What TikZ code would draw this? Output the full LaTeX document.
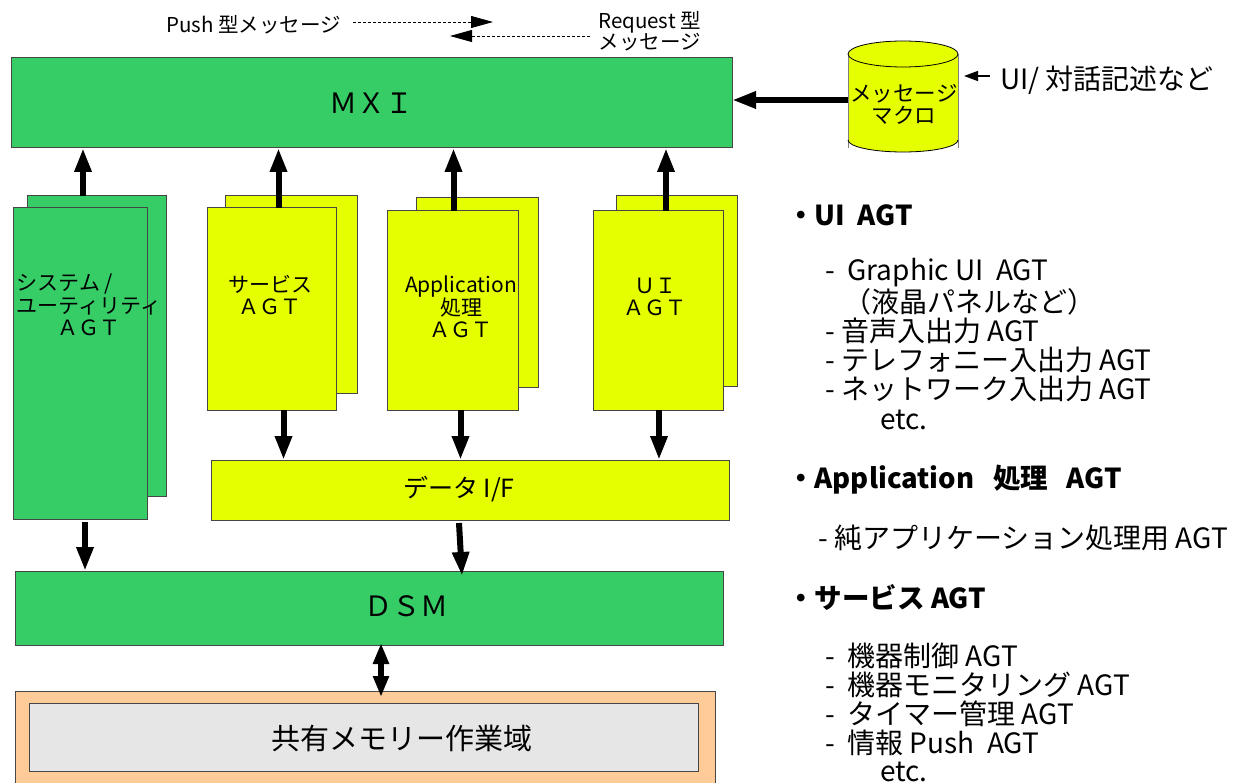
\documentclass[tikz,border=0pt]{standalone}
\usepackage{fontspec}
\setmainfont{Noto Sans CJK JP}
\usetikzlibrary{arrows.meta}
\definecolor{agtgreen}{RGB}{54,204,102}
\definecolor{agtyellow}{RGB}{230,255,0}
\definecolor{memorange}{RGB}{255,204,153}
\definecolor{memgray}{RGB}{230,230,230}
\definecolor{edgegray}{RGB}{70,70,70}
\begin{document}
\begin{tikzpicture}[x=1pt,y=-1pt,
  box/.style={draw=edgegray, line width=1pt, anchor=north west, inner sep=0pt, outer sep=0pt},
  gbox/.style={box, fill=agtgreen},
  ybox/.style={box, fill=agtyellow},
  lbl/.style={inner sep=0pt, align=center, font=\fontsize{21}{22.5}\selectfont},
  biglbl/.style={inner sep=0pt, font=\fontsize{28}{30}\selectfont},
  arr/.style={line width=6pt, -{Triangle[length=24pt,width=16pt]}},
  dbl/.style={line width=6pt, {Triangle[length=21pt,width=15pt]}-{Triangle[length=21pt,width=15pt]}},
  darr/.style={line width=0.8pt, dash pattern=on 3pt off 2pt, -{Triangle[length=22pt,width=12pt]}},
  rtxt/.style={anchor=west, inner sep=0pt, font=\fontsize{28}{29}\selectfont},
  rhead/.style={anchor=west, inner sep=0pt, font=\fontsize{27.5}{29}\selectfont\bfseries},
  toptxt/.style={inner sep=0pt, font=\fontsize{20.5}{21.5}\selectfont}
]
\useasboundingbox (0,0) rectangle (1236,783);
\clip (0,0) rectangle (1236,783);

% MXI
\node[gbox, minimum width=721pt, minimum height=90pt] (mxi) at (11,58) {};
\node[biglbl] (mxit) at (mxi.center) {ＭＸＩ};

% top message-type legend
\node[toptxt, anchor=west] (push) at (166,25) {Push 型メッセージ};
\coordinate (pushs) at (353,22);
\coordinate (pushe) at (493,22);
\draw[darr] (pushs) -- (pushe);
\coordinate (reqs) at (590,36);
\coordinate (reqe) at (450,36);
\draw[darr] (reqs) -- (reqe);
\node[toptxt, anchor=west, align=right] (req) at (598,31) {Request 型\\ メッセージ};

% cylinder
\fill[agtyellow] (848,54) -- (848,140) arc[start angle=180, end angle=0, x radius=55, y radius=12] -- (958,54) -- cycle;
\draw[gray, line width=0.8pt] (848,54) -- (848,148);
\draw[gray, line width=0.8pt] (958,54) -- (958,148);
\draw[black, line width=0.8pt] (848,140) arc[start angle=180, end angle=0, x radius=55, y radius=12];
\draw[black, line width=0.8pt, fill=agtyellow] (903,54) ellipse[x radius=55, y radius=13];
\node[inner sep=0pt, minimum width=110pt, minimum height=60pt] (cyl) at (903,100) {};
\node[lbl, font=\fontsize{21.5}{22}\selectfont] (cylt) at (904,104) {メッセージ\\マクロ};
\draw[arr] (cyl.west |- 0,100) -- (mxi.east |- 0,100);

\node[inner sep=0pt, anchor=west, font=\fontsize{28}{30}\selectfont] (uidlg) at (1000,80) {UI/ 対話記述など};
\coordinate (uiarr) at (990,76);
\draw[line width=1.5pt, -{Triangle[length=14pt,width=10pt]}] (uiarr) -- (964,76);

% agent stacks
\node[gbox, minimum width=139pt, minimum height=300pt] (sysb) at (27,196) {};
\node[gbox, minimum width=134pt, minimum height=311pt] (sysf) at (13,208) {};
\node[lbl] (syst) at (89,305) {システム /\hspace*{2.3em}\\ユーティリティ\\ＡＧＴ};

\node[ybox, minimum width=132pt, minimum height=197pt] (svcb) at (225,196) {};
\node[ybox, minimum width=129pt, minimum height=202pt] (svcf) at (207,208) {};
\node[lbl] (svct) at (270,295) {サービス\\ＡＧＴ};

\node[ybox, minimum width=122pt, minimum height=189pt] (appb) at (416,198) {};
\node[ybox, minimum width=131pt, minimum height=199pt] (appf) at (387,211) {};
\node[lbl] (appt) at (461,307) {Application\\処理\\ＡＧＴ};

\node[ybox, minimum width=121pt, minimum height=190pt] (uib) at (616,196) {};
\node[ybox, minimum width=130pt, minimum height=199pt] (uif) at (593,211) {};
\node[lbl] (uit) at (655,297) {ＵＩ\\ＡＧＴ};

% arrows up to MXI
\draw[arr] ([xshift=3pt]sysb.north -| sysf.north) -- ([xshift=3pt]mxi.south -| sysf.north);
\draw[arr] ([xshift=7pt]svcf.north) -- ([xshift=7pt]svcf.north |- mxi.south);
\draw[arr] ([xshift=1pt]appf.north) -- ([xshift=1pt]appf.north |- mxi.south);
\draw[arr] ([xshift=8pt]uif.north) -- ([xshift=8pt]uif.north |- mxi.south);

% data I/F
\node[ybox, minimum width=518pt, minimum height=60pt] (dif) at (211,460) {};
\node[inner sep=0pt, font=\fontsize{25}{27}\selectfont] (dift) at (459,489) {データ I/F};

\draw[arr] ([xshift=12pt]svcf.south) -- ([xshift=12pt]svcf.south |- dif.north);
\draw[arr] ([xshift=8pt]appf.south) -- ([xshift=8pt]appf.south |- dif.north);
\draw[arr] ([xshift=1pt]uif.south) -- ([xshift=1pt]uif.south |- dif.north);

% DSM
\node[gbox, minimum width=708pt, minimum height=74pt] (dsm) at (15,571) {};
\node[biglbl] (dsmt) at (406,606) {ＤＳＭ};

\draw[arr] ([xshift=5pt,yshift=-3pt]sysf.south) -- ([xshift=5pt]sysf.south |- dsm.north);
\draw[arr] ([xshift=-11pt,yshift=-3pt]dif.south) -- ([xshift=-8pt,yshift=-5pt]dif.south |- dsm.north);

% shared memory
\node[box, fill=memorange, minimum width=700pt, minimum height=110pt] (memo) at (15,691) {};
\node[box, fill=memgray, minimum width=669pt, minimum height=68pt] (memi) at (29,703) {};
\node[inner sep=0pt, font=\fontsize{29}{31}\selectfont] (memt) at (402,738) {共有メモリー作業域};

\draw[dbl] ([xshift=12pt,yshift=2pt]dsm.south) -- ([xshift=12pt,yshift=-6pt]dsm.south |- memo.north);

% right-hand list
\node[rhead] (h1) at (787,215) {・UI\ \ AGT};
\node[rtxt] (l1) at (825,273) {-\ \ Graphic\ UI\ \ AGT};
\node[rtxt] (l2) at (843,302) {（液晶パネルなど）};
\node[rtxt] (l3) at (825,331) {- 音声入出力 AGT};
\node[rtxt] (l4) at (825,360) {- テレフォニー入出力 AGT};
\node[rtxt] (l5) at (825,389) {- ネットワーク入出力 AGT};
\node[rtxt] (l6) at (880,420) {etc.};

\node[rhead] (h2) at (787,480) {・Application\ \ \ 処理\ \ \ AGT};
\node[rtxt] (l7) at (818,538) {- 純アプリケーション処理用 AGT};

\node[rhead] (h3) at (787,597) {・サービス AGT};
\node[rtxt] (l8) at (825,656) {-\ \ 機器制御 AGT};
\node[rtxt] (l9) at (825,685) {-\ \ 機器モニタリング AGT};
\node[rtxt] (l10) at (825,714) {-\ \ タイマー管理 AGT};
\node[rtxt] (l11) at (825,743) {-\ \ 情報 Push\ \ AGT};
\node[rtxt] (l12) at (880,772) {etc.};
\end{tikzpicture}
\end{document}
